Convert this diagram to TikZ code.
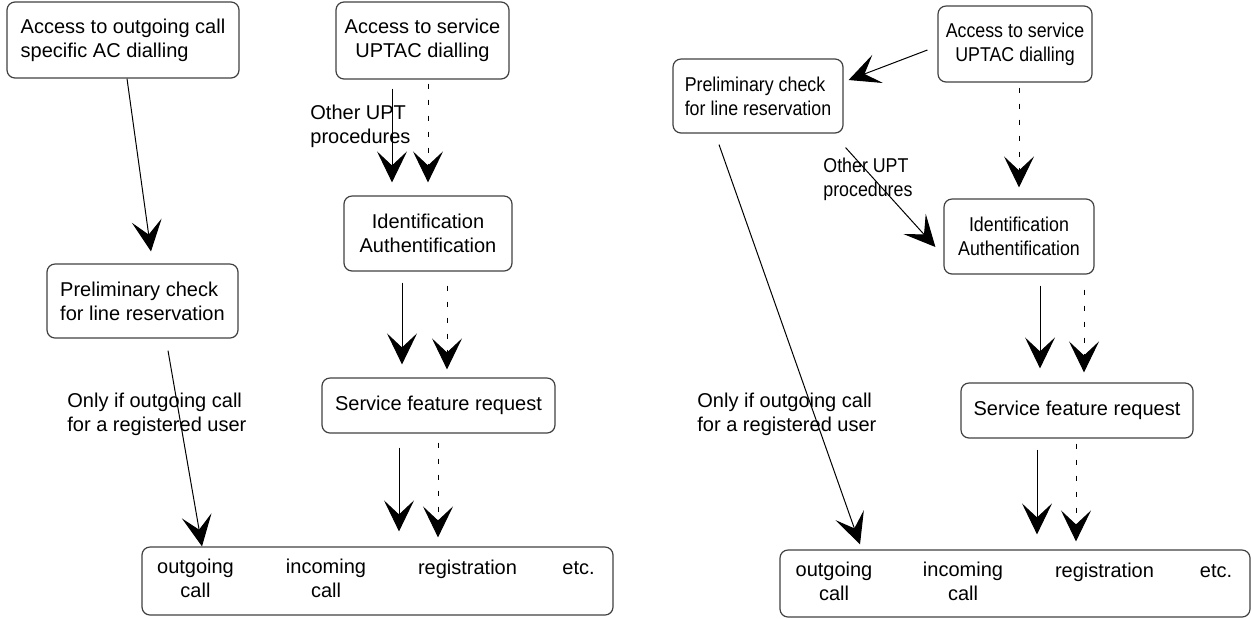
\documentclass[tikz,border=0pt]{standalone}
\usepackage{fontspec}
\setmainfont{Liberation Sans}
\newfontfamily\narrowfont[FakeStretch=0.89]{Liberation Sans}
\usepackage{tikz}
\usetikzlibrary{arrows.meta}
\usetikzlibrary{calc}
\tikzstyle{box} = [rectangle, draw=black!75, line width=0.6pt, rounded corners=4pt,
    inner sep=0pt, align=center, font=\fontsize{10}{12}\selectfont]
\tikzstyle{lbl} = [inner sep=0pt, align=left, font=\fontsize{10}{12}\selectfont]
\tikzstyle{flowline} = [draw, line width=0.5pt, -{Stealth[length=15.5pt,width=15pt,inset=7pt]}]
\tikzstyle{dotline} = [flowline, dash pattern=on 2.5pt off 5.5pt]

\begin{document}
\begin{tikzpicture}[x=0.5pt,y=-0.5pt]
    \useasboundingbox (0,0) rectangle (1251,618);
    % Place nodes (left)
    \node [box,align=left,minimum width=116pt,minimum height=38pt] (acc1) at (123,40) {Access to outgoing call\\specific AC dialling};
    \node [box,align=left,minimum width=95.5pt,minimum height=37pt] (pre1) at (142.5,301) {Preliminary check\\for line reservation};
    \node [box,minimum width=86.5pt,minimum height=38.5pt] (svc1) at (422.5,40.5) {Access to service\\UPTAC dialling};
    \node [box,minimum width=84pt,minimum height=37.5pt] (id1) at (428,233.5) {Identification\\Authentification};
    \node [box,minimum width=116.5pt,minimum height=27.5pt] (srv1) at (438.5,405.5) {Service feature request};
    \node [box,minimum width=235.5pt,minimum height=34pt] (fn1) at (377.5,581) {};
    \node [lbl,align=center] (out1) at (195.5,578) {outgoing\\call};
    \node [lbl,align=center] (inc1) at (326,578) {incoming\\call};
    \node [lbl,anchor=base] (reg1) at (467.5,574) {registration};
    \node [lbl,anchor=base] (etc1) at (578.5,574) {etc.};
    \node [lbl,anchor=west] (upt1) at (310,126) {Other UPT\\procedures};
    \node [lbl,anchor=west] (only1) at (67,414) {Only if outgoing call\\for a registered user};
    % Place nodes (right)
    \node [box,font=\fontsize{10}{12}\narrowfont,minimum width=77pt,minimum height=38pt] (svc2) at (1015,44) {Access to service\\UPTAC dialling};
    \node [box,align=left,font=\fontsize{10}{12}\narrowfont,minimum width=85pt,minimum height=37pt] (pre2) at (758,96) {Preliminary check\\for line reservation};
    \node [box,font=\fontsize{10}{12}\narrowfont,minimum width=75pt,minimum height=37.5pt] (id2) at (1019,236.5) {Identification\\Authentification};
    \node [box,minimum width=116pt,minimum height=27.5pt] (srv2) at (1077,410.5) {Service feature request};
    \node [box,minimum width=235pt,minimum height=33.5pt] (fn2) at (1015,583.5) {};
    \node [lbl,align=center] (out2) at (834,581) {outgoing\\call};
    \node [lbl,align=center] (inc2) at (963,581) {incoming\\call};
    \node [lbl,anchor=base] (reg2) at (1104.5,577) {registration};
    \node [lbl,anchor=base] (etc2) at (1216,577) {etc.};
    \node [lbl,anchor=west,font=\fontsize{10}{12}\narrowfont] (upt2) at (823,179) {Other UPT\\procedures};
    \node [lbl,anchor=west] (only2) at (697,414) {Only if outgoing call\\for a registered user};
    % Draw edges (left)
    \path [flowline] ($(acc1.south)+(4,0)$) -- ($(pre1.north)+(8.5,-12)$);
    \path [flowline] ($(svc1.south)+(-30.5,9)$) -- ($(id1.north)+(-36,-13)$);
    \path [dotline] ($(svc1.south)+(5.5,4)$) -- ($(id1.north)+(0,-13)$);
    \path [flowline] ($(id1.south)+(-26,11)$) -- ($(srv1.north)+(-36.5,-13)$);
    \path [dotline] ($(id1.south)+(19,14)$) -- ($(srv1.north)+(8.5,-8)$);
    \path [flowline] ($(srv1.south)+(-39.5,14)$) -- ($(fn1.north)+(21.5,-15)$);
    \path [dotline] ($(srv1.south)+(-0.5,9)$) -- ($(fn1.north)+(60.5,-9)$);
    \path [flowline] ($(pre1.south)+(25.5,12)$) -- ($(fn1.north)+(-175.5,0)$);
    % Draw edges (right)
    \path [flowline] ($(svc2.west)+(-10,6)$) -- ($(pre2.east)+(5,-16)$);
    \path [dotline] ($(svc2.south)+(4,5)$) -- ($(id2.north)+(0,-11)$);
    \path [flowline] ($(pre2.south east)+(2,14)$) -- ($(id2.west)+(-8,10.5)$);
    \path [flowline] ($(pre2.south)+(-39,11)$) -- ($(fn2.north)+(-155,-5)$);
    \path [flowline] ($(id2.south)+(21,11)$) -- ($(srv2.north)+(-37,-14)$);
    \path [dotline] ($(id2.south)+(65,15)$) -- ($(srv2.north)+(7,-10)$);
    \path [flowline] ($(srv2.south)+(-40,11)$) -- ($(fn2.north)+(22,-15)$);
    \path [dotline] ($(srv2.south)+(-1,5)$) -- ($(fn2.north)+(61,-8)$);
\end{tikzpicture}
\end{document}
